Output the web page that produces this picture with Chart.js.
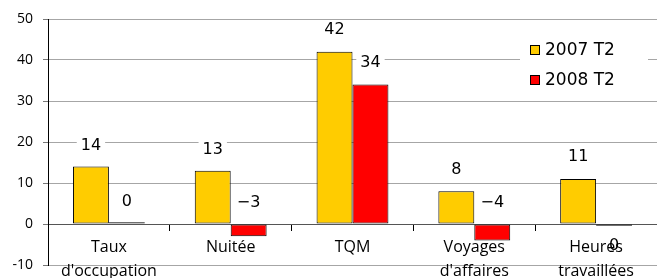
<!DOCTYPE html>
<html>
<head>
<meta charset="utf-8">
<script src="https://cdn.jsdelivr.net/npm/chart.js@4.4.1/dist/chart.umd.min.js"></script>
<style>
  body { margin: 0; background: #fff; }
  #wrap { position: relative; width: 657px; height: 278px; }
</style>
</head>
<body>
<div id="wrap"><canvas id="c"></canvas></div>
<script>
const categories = [["Taux", "d'occupation"], "Nuitée", "TQM", ["Voyages", "d'affaires"], ["Heures", "travaillées"]];
const seriesNames = ["2007 T2", "2008 T2"];
const values2007 = [14, 13, 42, 8, 11];
const values2008 = [0.4, -3, 34, -4, -0.4];
const yTicks = [-10, 0, 10, 20, 30, 40, 50];

// vertical offset of each value label from the bar end (px)
const labelDy2007 = [-21, -21, -22, -21, -22];
const labelDy2008 = [-21, -21, -22, -21, 22];

const FONT = "'Open Sans', 'DejaVu Sans', sans-serif";
const LABEL_FONT = "'DejaVu Sans', sans-serif";

const valueLabels = {
  id: 'valueLabels',
  afterDatasetsDraw(chart) {
    const ctx = chart.ctx;
    const y = chart.scales.y;
    const offsets = [labelDy2007, labelDy2008];
    ctx.save();
    ctx.font = '16px ' + LABEL_FONT;
    ctx.textAlign = 'center';
    ctx.textBaseline = 'middle';
    chart.data.datasets.forEach((ds, di) => {
      chart.getDatasetMeta(di).data.forEach((bar, i) => {
        const v = ds.data[i];
        const txt = String(Math.round(v)).replace('-', '−');
        const dy = offsets[di][i];
        const ly = y.getPixelForValue(Math.max(v, 0)) + dy;
        if (dy < 0) {
          const w = ctx.measureText(txt).width + 8;
          ctx.fillStyle = '#fff';
          ctx.fillRect(bar.x - w / 2, ly - 9, w, 18);
        }
        ctx.fillStyle = '#000';
        ctx.fillText(txt, bar.x, ly);
      });
    });
    ctx.restore();
  }
};

const insideLegend = {
  id: 'insideLegend',
  afterDraw(chart) {
    const ctx = chart.ctx;
    ctx.save();
    ctx.fillStyle = '#fff';
    ctx.fillRect(520, 36, 128, 58);
    ctx.font = '17px ' + LABEL_FONT;
    ctx.textBaseline = 'middle';
    chart.data.datasets.forEach((ds, i) => {
      const cy = 50 + i * 30;
      ctx.fillStyle = ds.backgroundColor;
      ctx.fillRect(530, cy - 5, 9, 10);
      ctx.strokeStyle = '#000';
      ctx.lineWidth = 1;
      ctx.strokeRect(530.5, cy - 4.5, 9, 9);
      ctx.fillStyle = '#000';
      ctx.fillText(ds.label, 545, cy + 1);
    });
    ctx.restore();
  }
};

function noPad(s) {
  s.paddingTop = 0;
  s.paddingBottom = 0;
}

new Chart(document.getElementById('c'), {
  type: 'bar',
  data: {
    labels: categories,
    datasets: [
      { label: seriesNames[0], data: values2007, backgroundColor: '#FFCC00', borderColor: '#000', borderWidth: 1, borderSkipped: false },
      { label: seriesNames[1], data: values2008, backgroundColor: '#FF0000', borderColor: '#000', borderWidth: 1, borderSkipped: false }
    ]
  },
  options: {
    responsive: true,
    maintainAspectRatio: false,
    animation: false,
    layout: { padding: { top: 19, bottom: 13, right: 0, left: 0 } },
    plugins: { legend: { display: false }, tooltip: { enabled: false } },
    datasets: { bar: { categoryPercentage: 0.59, barPercentage: 1 } },
    scales: {
      x: {
        position: { y: 0 },
        afterFit: noPad,
        grid: { display: true, drawOnChartArea: false, offset: true, tickLength: 6, color: '#000' },
        border: { display: true, color: '#555', width: 1 },
        ticks: { color: '#000', font: { family: FONT, size: 16, lineHeight: 1.5 }, padding: 5, maxRotation: 0, autoSkip: false }
      },
      y: {
        min: -10, max: 50,
        afterBuildTicks(s) { s.ticks = yTicks.map(v => ({ value: v })); },
        afterFit(s) { s.width = 48; noPad(s); },
        grid: { color: '#a6a6a6', tickLength: 5, tickColor: '#777' },
        border: { display: true, color: '#000', width: 1 },
        ticks: { color: '#000', font: { family: FONT, size: 14 }, padding: 10 }
      }
    }
  },
  plugins: [valueLabels, insideLegend]
});
</script>
</body>
</html>
